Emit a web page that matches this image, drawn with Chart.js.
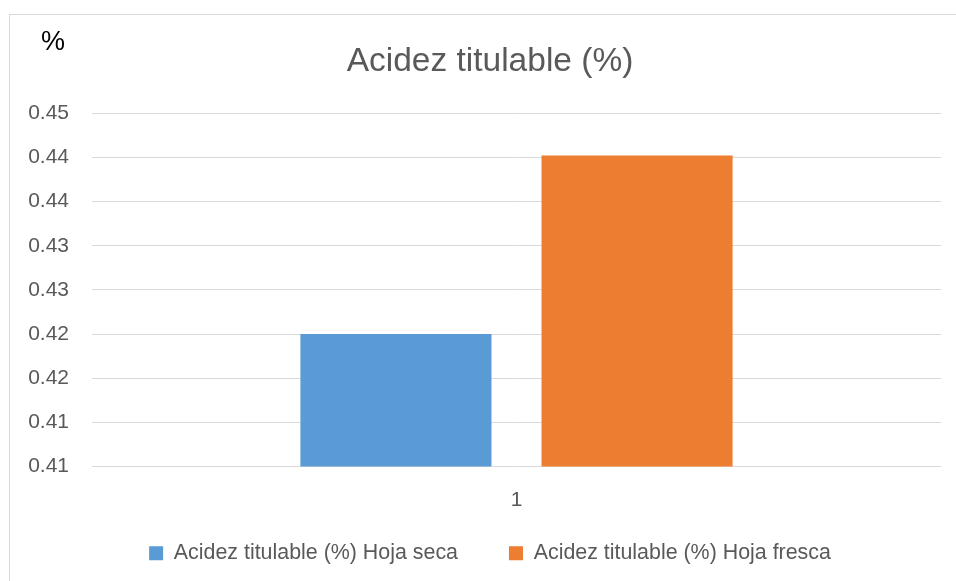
<!DOCTYPE html>
<html>
<head>
<meta charset="utf-8">
<script src="https://cdn.jsdelivr.net/npm/chart.js@4"></script>
<style>
	html, body { margin: 0; padding: 0; background: #fff; overflow: hidden; width: 956px; height: 581px; }
	#frame { position: absolute; left: 9px; top: 14px; width: 1000px; height: 700px; border: 1px solid #d9d9d9; }
	#wrap { position: absolute; left: 0; top: 0; width: 980px; height: 574px; }
	#unit { position: absolute; left: 41px; top: 28px; font: 27px 'Liberation Sans', Arial, sans-serif; line-height: 1; color: #000; }
</style>
</head>
<body>
<div id="frame"></div>
<div id="wrap"><canvas id="chart"></canvas></div>
<div id="unit">%</div>
<script>
const categories = ['1'];
const seriesNames = ['Acidez titulable (%) Hoja seca', 'Acidez titulable (%) Hoja fresca'];
const hojaSeca = [0.42];
const hojaFresca = [0.4402];
const yTickValues = [0.405, 0.41, 0.415, 0.42, 0.425, 0.43, 0.435, 0.44, 0.445];
const yTickLabels = ['0.41', '0.41', '0.42', '0.42', '0.43', '0.43', '0.44', '0.44', '0.45'];

const font = 'Liberation Sans, Arial, sans-serif';
const grey = '#595959';

const data = {
	labels: categories,
	datasets: [{
		label: seriesNames[0],
		data: hojaSeca,
		backgroundColor: '#5b9bd5'
	}, {
		label: seriesNames[1],
		data: hojaFresca,
		backgroundColor: '#ed7d31'
	}]
};

const config = {
	type: 'bar',
	data,
	options: {
		responsive: true,
		maintainAspectRatio: false,
		animation: false,
		datasets: {
			bar: { categoryPercentage: 0.568, barPercentage: 0.7925 }
		},
		layout: { padding: 0 },
		plugins: {
			tooltip: { enabled: false },
			title: {
				display: true,
				text: 'Acidez titulable (%)',
				color: grey,
				font: { family: font, size: 33.5, weight: 'normal' },
				padding: { top: 42, bottom: 31 }
			},
			legend: {
				position: 'bottom',
				labels: {
					color: grey,
					font: { family: font, size: 21.4 },
					boxWidth: 14,
					boxHeight: 14,
					padding: 51
				}
			}
		},
		scales: {
			x: {
				grid: { display: false },
				border: { display: false },
				ticks: {
					color: grey,
					mirror: true,
					padding: -46,
					font: { family: font, size: 21 }
				},
				afterFit: scale => { scale.height = 25; }
			},
			y: {
				min: 0.405,
				max: 0.445,
				border: { display: false },
				grid: { color: '#d9d9d9', lineWidth: 1, drawTicks: false },
				afterBuildTicks: scale => { scale.ticks = yTickValues.map(v => ({ value: v })); },
				afterFit: scale => { scale.width = 92; },
				ticks: {
					color: grey,
					padding: 23,
					font: { family: font, size: 21 },
					callback: (value, i) => yTickLabels[i]
				}
			},
			// blank strip on the right so the title and legend sit where the original has them
			y2: {
				position: 'right',
				grid: { display: false },
				border: { display: false },
				ticks: { display: false },
				afterFit: scale => { scale.width = 39; }
			}
		}
	}
};

new Chart(document.getElementById('chart'), config);
</script>
</body>
</html>
